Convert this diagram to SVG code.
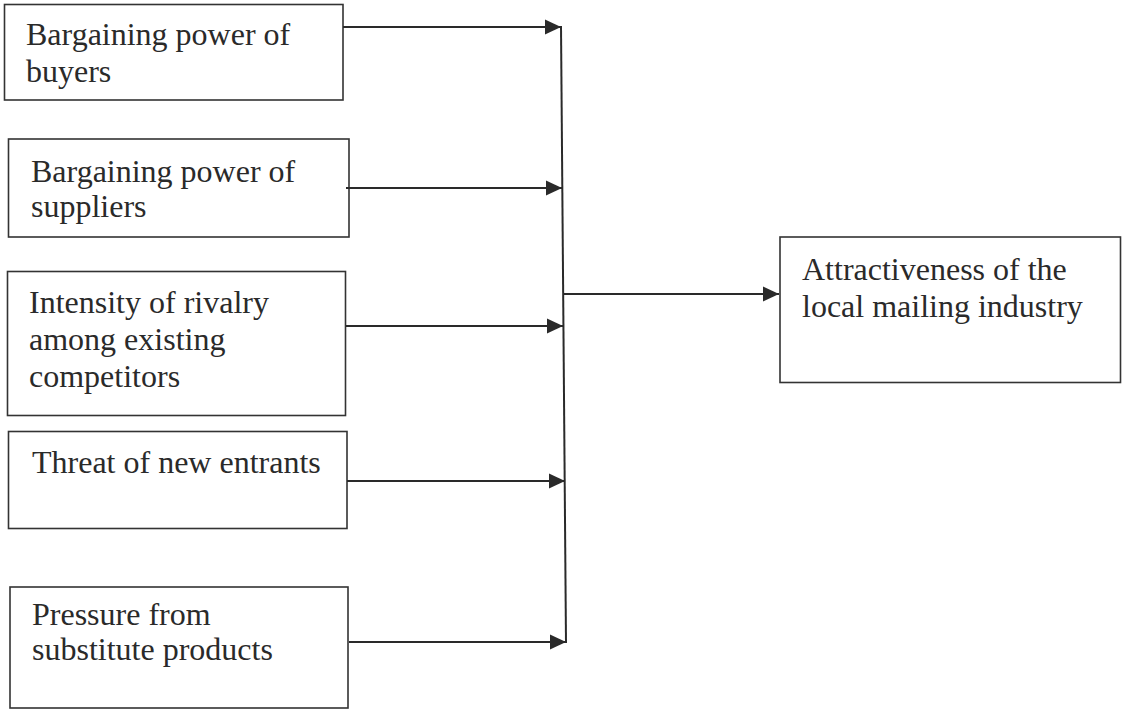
<svg xmlns="http://www.w3.org/2000/svg" width="1126" height="714" viewBox="0 0 1126 714">
<style>
.box{fill:#fff;stroke:#333;stroke-width:1.6}
.lbl{font-family:"Liberation Serif","Times New Roman",serif;font-size:32px;fill:#2a2a2a}
.con{stroke:#2a2a2a;stroke-width:2;fill:none}
</style>
<defs>
<marker id="ah" markerUnits="userSpaceOnUse" markerWidth="16" markerHeight="16" viewBox="0 0 16 16" refX="16" refY="8" orient="auto">
<path d="M0,0.5 L16,8 L0,15.5 Z" fill="#2a2a2a"/>
</marker>
</defs>
<rect width="1126" height="714" fill="#fff"/>
<g id="n1"><rect class="box" x="4.5" y="4.5" width="338.5" height="95.5"/>
<text class="lbl" x="26" y="45">Bargaining power of</text><text class="lbl" x="26" y="82">buyers</text></g>
<g id="n2"><rect class="box" x="8.5" y="139" width="340.5" height="98"/>
<text class="lbl" x="31" y="182">Bargaining power of</text><text class="lbl" x="31" y="217">suppliers</text></g>
<g id="n3"><rect class="box" x="7.5" y="271.5" width="338" height="144"/>
<text class="lbl" x="29" y="313">Intensity of rivalry</text><text class="lbl" x="29" y="350">among existing</text><text class="lbl" x="29" y="387">competitors</text></g>
<g id="n4"><rect class="box" x="8.5" y="431.5" width="338.5" height="97"/>
<text class="lbl" x="32" y="473">Threat of new entrants</text></g>
<g id="n5"><rect class="box" x="10" y="587" width="338" height="121"/>
<text class="lbl" x="32" y="625">Pressure from</text><text class="lbl" x="32" y="660">substitute products</text></g>
<g id="target"><rect class="box" x="780" y="237" width="340.5" height="145.5"/>
<text class="lbl" x="802" y="280">Attractiveness of the</text><text class="lbl" x="802" y="317">local mailing industry</text></g>
<g id="connectors">
<line class="con" x1="343" y1="27" x2="561" y2="27" marker-end="url(#ah)"/>
<line class="con" x1="346" y1="188" x2="562" y2="188" marker-end="url(#ah)"/>
<line class="con" x1="346" y1="326" x2="563" y2="326" marker-end="url(#ah)"/>
<line class="con" x1="347" y1="481" x2="565" y2="481" marker-end="url(#ah)"/>
<line class="con" x1="349" y1="642" x2="566" y2="642" marker-end="url(#ah)"/>
<line class="con" x1="561" y1="26" x2="566" y2="643"/>
<line class="con" x1="563" y1="294" x2="779" y2="294" marker-end="url(#ah)"/>
</g>
</svg>
